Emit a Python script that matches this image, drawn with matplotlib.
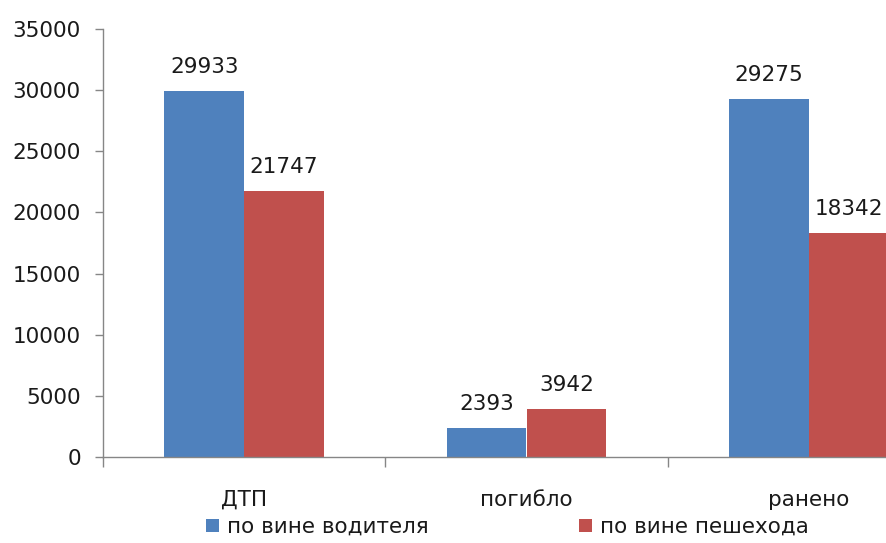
import matplotlib.pyplot as plt
from matplotlib.transforms import blended_transform_factory

# Road accident statistics by fault
categories = ['ДТП', 'погибло', 'ранено']
driver_fault = [29933, 2393, 29275]
pedestrian_fault = [21747, 3942, 18342]
series_names = ['по вине водителя', 'по вине пешехода']
yticks = [0, 5000, 10000, 15000, 20000, 25000, 30000, 35000]

blue = '#4F81BD'
red = '#C0504D'
axis_grey = '#868686'
text_col = '#1a1a1a'
fs = 15.5

plt.rcParams['font.family'] = 'DejaVu Sans'

fig = plt.figure(figsize=(8.87, 5.43), dpi=100)
# axes runs past the right edge of the canvas
ax = fig.add_axes([103 / 887, 86 / 543, 847 / 887, 428 / 543])

x = list(range(len(categories)))
w = 0.283
b1 = ax.bar([i - w / 2 for i in x], driver_fault, w, color=blue, label=series_names[0])
b2 = ax.bar([i + w / 2 for i in x], pedestrian_fault, w, color=red, label=series_names[1])

for bars, vals in ((b1, driver_fault), (b2, pedestrian_fault)):
    for rect, v in zip(bars, vals):
        ax.annotate(str(v), (rect.get_x() + rect.get_width() / 2, v),
                    xytext=(0, 10), textcoords='offset points',
                    ha='center', va='bottom', fontsize=fs, color=text_col)

ax.set_xlim(-0.5, 2.5)
ax.set_ylim(0, 35000)
ax.set_yticks(yticks)
ax.set_yticklabels([str(t) for t in yticks], fontsize=fs, color=text_col)
ax.tick_params(axis='y', direction='out', length=6, width=1, color=axis_grey, pad=10)

# category boundaries as x ticks, names drawn separately
ax.set_xticks([-0.5, 0.5, 1.5, 2.5])
ax.set_xticklabels([])
ax.tick_params(axis='x', direction='out', length=7, width=1, color=axis_grey)

trans = blended_transform_factory(ax.transData, ax.transAxes)
for i, name in enumerate(categories):
    ax.text(i, -0.1, name, transform=trans, ha='center', va='center',
            fontsize=fs, color=text_col)

for side in ('top', 'right'):
    ax.spines[side].set_visible(False)
for side in ('left', 'bottom'):
    ax.spines[side].set_color(axis_grey)
    ax.spines[side].set_linewidth(1)

fig.legend(handles=[b1, b2], loc='center', bbox_to_anchor=(0.572, 0.0295),
           ncol=2, frameon=False, fontsize=fs, handlelength=0.6, handleheight=0.6,
           handletextpad=0.35, columnspacing=7.0, labelcolor=text_col)

fig.savefig('out.png', dpi=100)
